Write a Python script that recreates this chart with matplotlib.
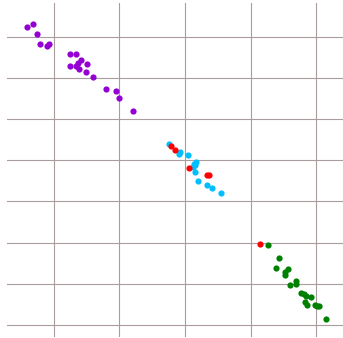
import matplotlib
matplotlib.use("Agg")
import matplotlib.pyplot as plt

# purple group
purple_x = [0.59, 0.68, 0.74, 0.79, 0.90, 0.92, 1.25, 1.33, 1.24, 1.33,
            1.36, 1.42, 1.38, 1.50, 1.49, 1.60, 1.80, 1.94, 2.00, 2.21]
purple_y = [8.25, 8.33, 8.07, 7.82, 7.78, 7.84, 7.58, 7.60, 7.30, 7.30,
            7.36, 7.44, 7.22, 7.34, 7.14, 7.03, 6.74, 6.68, 6.52, 6.19]

# blue group
blue_x = [2.76, 2.91, 2.92, 3.04, 3.14, 3.12, 3.16, 3.17, 3.15, 3.20, 3.33, 3.41, 3.55]
blue_y = [5.41, 5.15, 5.20, 5.12, 4.92, 4.85, 4.88, 4.95, 4.71, 4.49, 4.41, 4.33, 4.21]

# red points
red_x = [2.78, 2.85, 3.06, 3.33, 3.37, 4.15]
red_y = [5.36, 5.24, 4.82, 4.65, 4.65, 2.97]

# green group
green_x = [4.27, 4.44, 4.39, 4.52, 4.52, 4.58, 4.60, 4.70, 4.70, 4.77,
           4.82, 4.85, 4.93, 4.83, 4.86, 4.98, 5.02, 5.05, 5.15]
green_y = [2.93, 2.62, 2.38, 2.29, 2.21, 2.36, 1.96, 2.06, 1.99, 1.78,
           1.74, 1.70, 1.67, 1.54, 1.48, 1.47, 1.46, 1.46, 1.15]

xticks = [1, 2, 3, 4, 5]
yticks = [1, 2, 3, 4, 5, 6, 7, 8]

fig = plt.figure(figsize=(3.43, 3.38), dpi=100)
ax = fig.add_axes([7 / 343, 1 / 338, 336 / 343, 334 / 338])

ax.scatter(purple_x, purple_y, s=20, color="#9400d3", linewidths=0, zorder=3)
ax.scatter(blue_x, blue_y, s=20, color="#00bfff", linewidths=0, zorder=3)
ax.scatter(red_x, red_y, s=20, color="#ff0000", linewidths=0, zorder=4)
ax.scatter(green_x, green_y, s=20, color="#008000", linewidths=0, zorder=3)

ax.set_xlim(0.283, 5.412)
ax.set_ylim(0.70, 8.83)
ax.set_xticks(xticks)
ax.set_yticks(yticks)
ax.grid(True, color="#ab9c9e", linewidth=0.8)
ax.tick_params(length=0, labelbottom=False, labelleft=False)
for s in ax.spines.values():
    s.set_visible(False)

fig.savefig("out.png", dpi=100)
